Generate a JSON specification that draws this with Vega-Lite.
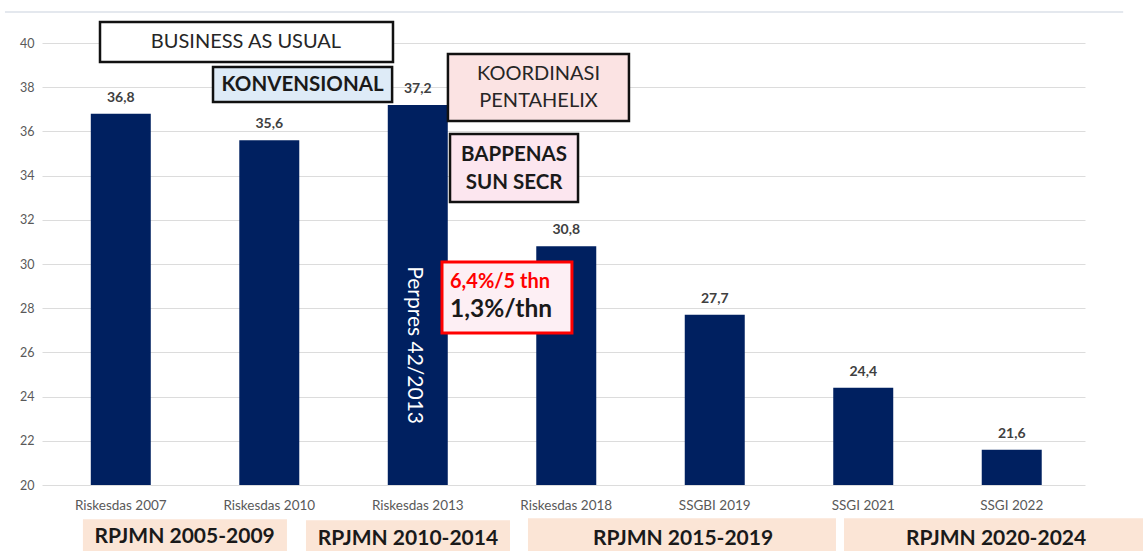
{
  "$schema": "https://vega.github.io/schema/vega-lite/v6.json",
  "width": 1043,
  "height": 442,
  "autosize": {"type": "none"},
  "padding": {"left": 42, "top": 43, "right": 58, "bottom": 66},
  "background": "white",
  "config": {"view": {"stroke": null}, "font": "Lato", "text": {"font": "Lato"}},
  "datasets": {
    "bars": [
      {"cat": "Riskesdas 2007", "value": 36.8, "label": "36,8"},
      {"cat": "Riskesdas 2010", "value": 35.6, "label": "35,6"},
      {"cat": "Riskesdas 2013", "value": 37.2, "label": "37,2"},
      {"cat": "Riskesdas 2018", "value": 30.8, "label": "30,8"},
      {"cat": "SSGBI 2019", "value": 27.7, "label": "27,7"},
      {"cat": "SSGI 2021", "value": 24.4, "label": "24,4"},
      {"cat": "SSGI 2022", "value": 21.6, "label": "21,6"}
    ],
    "frame": [{"x": -0.78, "x2": 6.75, "y": 41.4}],
    "boxes_outlined": [
      {"name": "business", "x": -0.140, "x2": 1.833, "y": 40.950, "y2": 39.140},
      {"name": "konvensional", "x": 0.621, "x2": 1.827, "y": 38.914, "y2": 37.330},
      {"name": "koordinasi", "x": 2.203, "x2": 3.422, "y": 39.502, "y2": 36.471},
      {"name": "bappenas", "x": 2.217, "x2": 3.079, "y": 35.882, "y2": 32.805}
    ],
    "box_rate": [{"x": 2.163, "x2": 3.038, "y": 30.090, "y2": 26.878}],
    "periods": [
      {"x": -0.255, "x2": 1.119, "y": 18.45, "y2": 16.9},
      {"x": 1.247, "x2": 2.621, "y": 18.4, "y2": 16.9},
      {"x": 2.742, "x2": 4.816, "y": 18.5, "y2": 16.9},
      {"x": 4.870, "x2": 6.9, "y": 18.5, "y2": 16.9}
    ],
    "period_labels": [
      {"x": 0.43, "y": 17.65, "text": "RPJMN 2005-2009"},
      {"x": 1.934, "y": 17.54, "text": "RPJMN 2010-2014"},
      {"x": 3.786, "y": 17.54, "text": "RPJMN 2015-2019"},
      {"x": 5.894, "y": 17.54, "text": "RPJMN 2020-2024"}
    ],
    "notes_plain": [
      {"x": 0.843, "y": 40.045, "text": "BUSINESS AS USUAL"},
      {"x": 2.813, "y": 38.597, "text": "KOORDINASI\nPENTAHELIX"}
    ],
    "notes_bold": [
      {"x": 1.224, "y": 38.10, "text": "KONVENSIONAL"},
      {"x": 2.648, "y": 34.93, "text": "BAPPENAS\nSUN SECR"}
    ],
    "rate_red": [{"x": 2.217, "y": 29.19, "text": "6,4%/5 thn"}],
    "rate_black": [{"x": 2.217, "y": 27.92, "text": "1,3%/thn"}],
    "perpres": [{"x": 1.974, "y": 26.33, "text": "Perpres 42/2013"}]
  },
  "layer": [
    {
      "data": {"name": "bars"},
      "encoding": {
        "x": {
          "field": "cat", "type": "nominal", "sort": null,
          "scale": {"paddingInner": 0.596, "paddingOuter": 0.31, "align": 0.53},
          "axis": {"title": null, "labelAngle": 0, "domain": false, "ticks": false, "tickSize": 0,
                   "labelPadding": 13, "labelFontSize": 13.5, "labelColor": "#595959", "labelFont": "Lato"}
        },
        "y": {
          "field": "value", "type": "quantitative",
          "scale": {"domain": [20, 40], "nice": false, "zero": false},
          "axis": {"title": null, "values": [20, 22, 24, 26, 28, 30, 32, 34, 36, 38, 40],
                   "grid": true, "gridColor": "#dcdcdc", "gridWidth": 1, "domain": false, "ticks": false,
                   "tickSize": 0, "labelPadding": 8, "labelFontSize": 12.5, "labelColor": "#595959",
                   "labelFont": "Lato"}
        }
      },
      "layer": [
        {"mark": {"type": "bar", "color": "#002060"}, "encoding": {"y2": {"datum": 20}}},
        {"mark": {"type": "text", "fontWeight": "bold", "fontSize": 14, "color": "#404040", "baseline": "middle", "dy": -16},
         "encoding": {"text": {"field": "label"}}}
      ]
    },
    {
      "encoding": {
        "x": {"field": "x", "type": "quantitative", "scale": {"domain": [-0.5306, 6.493], "nice": false, "zero": false}, "axis": null},
        "y": {"field": "y", "type": "quantitative", "scale": {"domain": [20, 40], "nice": false, "zero": false}, "axis": null}
      },
      "layer": [
        {"data": {"name": "frame"}, "mark": {"type": "rule", "color": "#e4e8ee", "strokeWidth": 2},
         "encoding": {"x2": {"field": "x2"}}},
        {"data": {"name": "periods"}, "mark": {"type": "rect", "fill": "#fbe5d6"},
         "encoding": {"x2": {"field": "x2"}, "y2": {"field": "y2"}}},
        {"data": {"name": "boxes_outlined"}, "mark": {"type": "rect", "stroke": "#111111", "strokeWidth": 2.5},
         "encoding": {"x2": {"field": "x2"}, "y2": {"field": "y2"},
           "fill": {"field": "name", "type": "nominal", "legend": null,
             "scale": {"domain": ["business", "konvensional", "koordinasi", "bappenas"],
                       "range": ["#ffffff", "#deebf7", "#fbe3e3", "#fce6ef"]}}}},
        {"data": {"name": "box_rate"}, "mark": {"type": "rect", "fill": "#fdeff4", "stroke": "#ff0000", "strokeWidth": 3},
         "encoding": {"x2": {"field": "x2"}, "y2": {"field": "y2"}}},
        {"data": {"name": "period_labels"}, "mark": {"type": "text", "fontWeight": "bold", "fontSize": 21, "color": "#1a1a1a", "baseline": "middle"},
         "encoding": {"text": {"field": "text"}}},
        {"data": {"name": "notes_plain"}, "mark": {"type": "text", "fontSize": 20, "color": "#262626", "baseline": "middle", "lineBreak": "\n", "lineHeight": 27},
         "encoding": {"text": {"field": "text"}}},
        {"data": {"name": "notes_bold"}, "mark": {"type": "text", "fontWeight": "bold", "fontSize": 20.5, "color": "#1a1a1a", "baseline": "middle", "lineBreak": "\n", "lineHeight": 28},
         "encoding": {"text": {"field": "text"}}},
        {"data": {"name": "rate_red"}, "mark": {"type": "text", "fontWeight": "bold", "fontSize": 20, "color": "#ff0000", "baseline": "middle", "align": "left"},
         "encoding": {"text": {"field": "text"}}},
        {"data": {"name": "rate_black"}, "mark": {"type": "text", "fontWeight": "bold", "fontSize": 24.5, "color": "#1a1a1a", "baseline": "middle", "align": "left"},
         "encoding": {"text": {"field": "text"}}},
        {"data": {"name": "perpres"}, "mark": {"type": "text", "fontSize": 21, "color": "#ffffff", "baseline": "middle", "align": "center", "angle": 90},
         "encoding": {"text": {"field": "text"}}}
      ]
    }
  ],
  "resolve": {"scale": {"x": "independent"}, "axis": {"y": "independent"}}
}
